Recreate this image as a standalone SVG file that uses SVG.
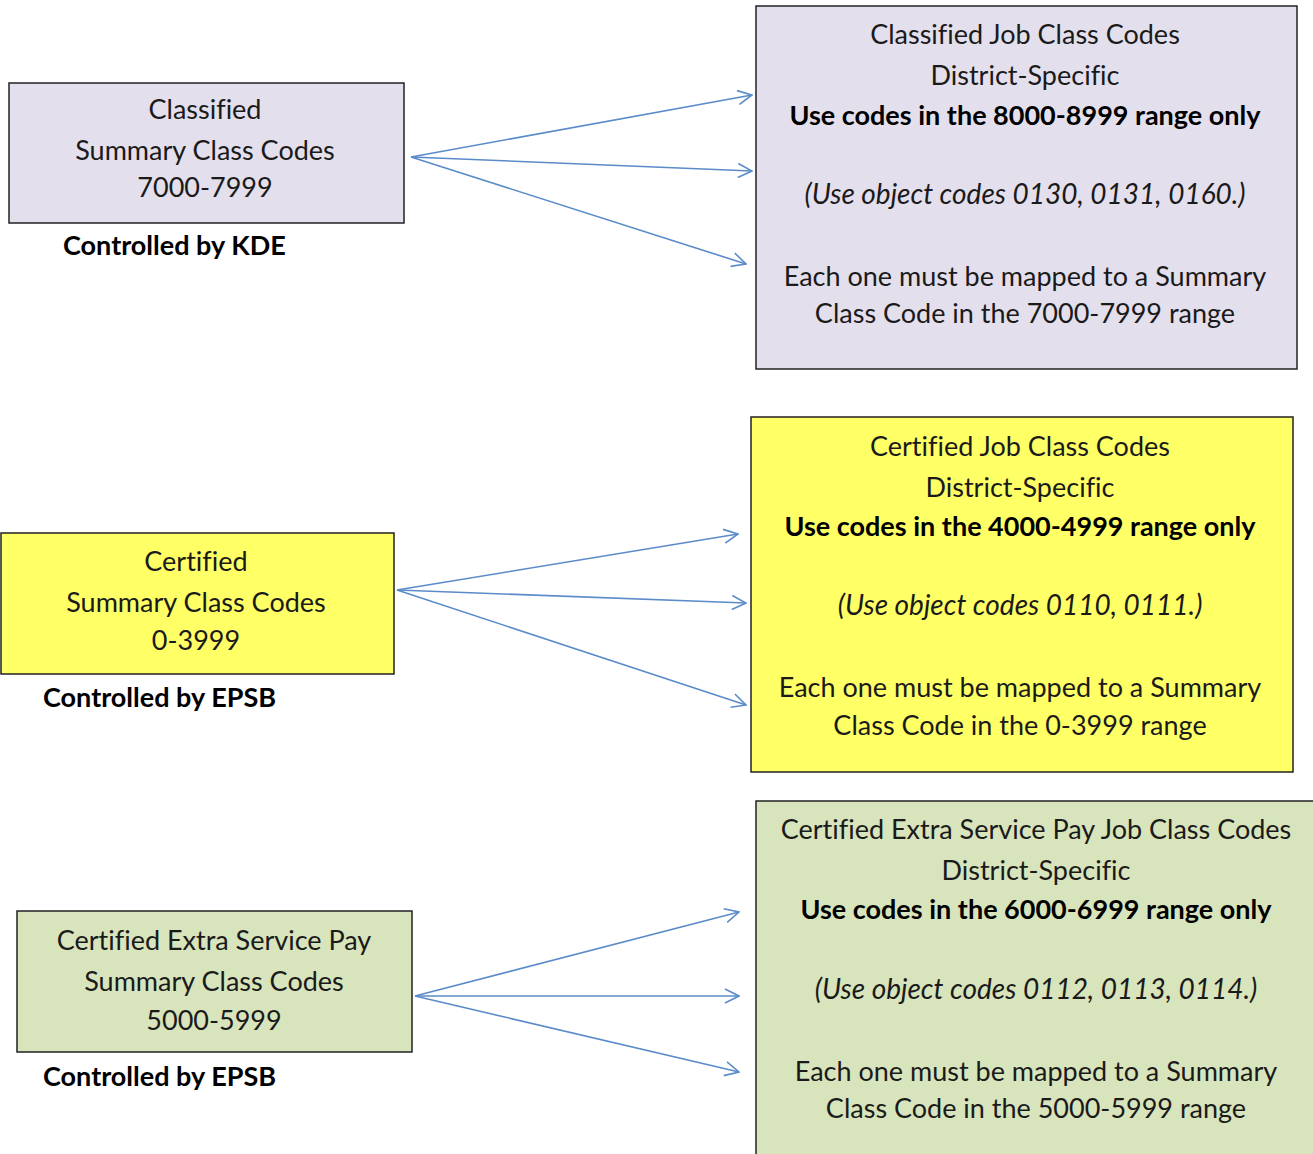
<svg xmlns="http://www.w3.org/2000/svg" width="1313" height="1154" viewBox="0 0 1313 1154">
<defs>
<style>
text{font-family:Lato,"Open Sans","Liberation Sans",sans-serif;font-size:27px;fill:#1a1a1a;text-anchor:middle;font-variant-ligatures:none}
.b{font-weight:bold;fill:#000}
.i{font-style:italic;font-size:28px}
.l{text-anchor:start}
.box{stroke:#222;stroke-width:1.5}
.lav{fill:#e4dfec}
.yel{fill:#ffff66}
.grn{fill:#d8e4bc}
.arr{stroke:#5b8bc9;stroke-width:1.6;fill:none;marker-end:url(#ah)}
</style>
<marker id="ah" viewBox="0 0 16 16" refX="15" refY="8" markerWidth="16" markerHeight="16" markerUnits="userSpaceOnUse" orient="auto">
<path d="M1,1 L15,8 L1,15" fill="none" stroke="#5b8bc9" stroke-width="1.6"/>
</marker>
</defs>
<g id="connectors">
<line class="arr" x1="411" y1="157" x2="752" y2="95"/>
<line class="arr" x1="411" y1="157" x2="752" y2="171"/>
<line class="arr" x1="411" y1="157" x2="746" y2="264"/>
<line class="arr" x1="397" y1="590" x2="738" y2="534"/>
<line class="arr" x1="397" y1="590" x2="746" y2="603"/>
<line class="arr" x1="397" y1="590" x2="746" y2="705"/>
<line class="arr" x1="415" y1="996" x2="739" y2="912"/>
<line class="arr" x1="415" y1="996" x2="739" y2="996"/>
<line class="arr" x1="415" y1="996" x2="739" y2="1072"/>
</g>
<g id="classified-summary">
<rect class="box lav" x="9" y="83" width="395" height="140"/>
<text x="205" y="119">Classified</text>
<text x="205" y="160">Summary Class Codes</text>
<text x="205" y="197">7000-7999</text>
<text class="b l" x="63" y="255">Controlled by KDE</text>
</g>
<g id="classified-job">
<rect class="box lav" x="756" y="6" width="541" height="363"/>
<text x="1025" y="44">Classified Job Class Codes</text>
<text x="1025" y="85">District-Specific</text>
<text class="b" x="1025" y="125">Use codes in the 8000-8999 range only</text>
<text class="i" x="1025" y="204">(Use object codes 0130, 0131, 0160.)</text>
<text x="1025" y="286">Each one must be mapped to a Summary</text>
<text x="1025" y="323">Class Code in the 7000-7999 range</text>
</g>
<g id="certified-summary">
<rect class="box yel" x="1" y="533" width="393" height="141"/>
<text x="196" y="571">Certified</text>
<text x="196" y="612">Summary Class Codes</text>
<text x="196" y="650">0-3999</text>
<text class="b l" x="43" y="707">Controlled by EPSB</text>
</g>
<g id="certified-job">
<rect class="box yel" x="751" y="417" width="542" height="355"/>
<text x="1020" y="456">Certified Job Class Codes</text>
<text x="1020" y="497">District-Specific</text>
<text class="b" x="1020" y="536">Use codes in the 4000-4999 range only</text>
<text class="i" x="1020" y="615">(Use object codes 0110, 0111.)</text>
<text x="1020" y="697">Each one must be mapped to a Summary</text>
<text x="1020" y="735">Class Code in the 0-3999 range</text>
</g>
<g id="extra-summary">
<rect class="box grn" x="17" y="911" width="395" height="141"/>
<text x="214" y="950">Certified Extra Service Pay</text>
<text x="214" y="991">Summary Class Codes</text>
<text x="214" y="1030">5000-5999</text>
<text class="b l" x="43" y="1086">Controlled by EPSB</text>
</g>
<g id="extra-job">
<rect class="box grn" x="756" y="801" width="570" height="370"/>
<text x="1036" y="839">Certified Extra Service Pay Job Class Codes</text>
<text x="1036" y="880">District-Specific</text>
<text class="b" x="1036" y="919">Use codes in the 6000-6999 range only</text>
<text class="i" x="1036" y="999">(Use object codes 0112, 0113, 0114.)</text>
<text x="1036" y="1081">Each one must be mapped to a Summary</text>
<text x="1036" y="1118">Class Code in the 5000-5999 range</text>
</g>
</svg>
